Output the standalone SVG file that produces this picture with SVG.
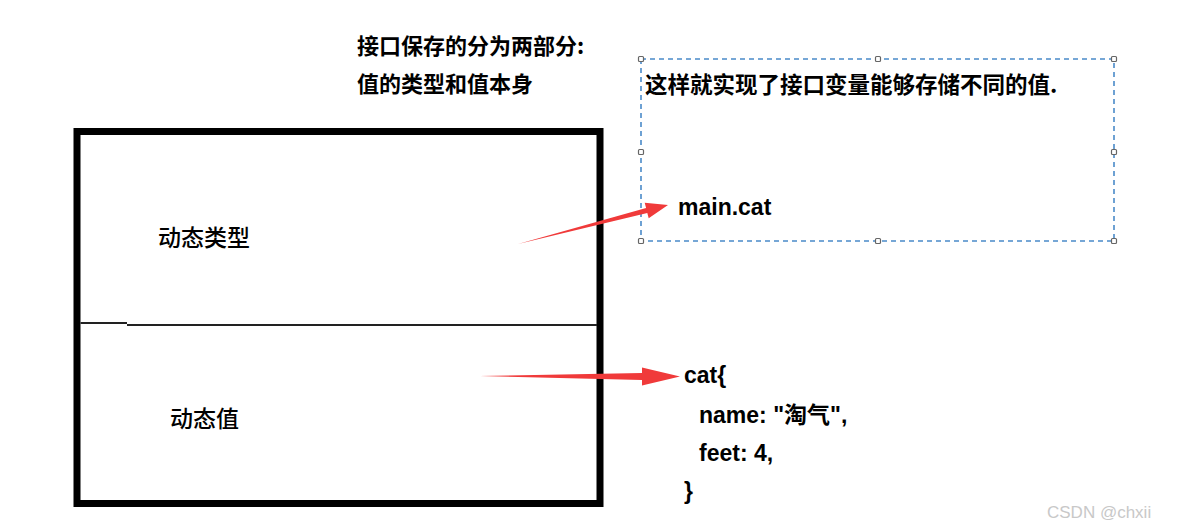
<svg xmlns="http://www.w3.org/2000/svg" width="1177" height="530" viewBox="0 0 1177 530">
<style>
.t{font-family:"Microsoft YaHei","Noto Sans CJK SC","Liberation Sans",sans-serif;font-weight:bold;font-size:22px;fill:#000}
.n{font-family:"Microsoft YaHei","Noto Sans CJK SC","Liberation Sans",sans-serif;font-weight:500;font-size:23px;fill:#000}
.c{font-family:"Liberation Sans","Noto Sans CJK SC",sans-serif;font-weight:bold;font-size:23px;fill:#000}
.h{fill:#fff;stroke:#666;stroke-width:1.2}
.arr{fill:#f03a3a}
</style>
<rect width="1177" height="530" fill="#fff"/>
<g id="interface-box">
<rect x="77" y="131.5" width="523" height="372" fill="#fff" stroke="#000" stroke-width="7"/>
<path d="M80.5 323 H127 M127 325 H597" stroke="#222" stroke-width="1.8" fill="none"/>
<text class="n" x="158" y="246">动态类型</text>
<text class="n" x="170" y="427">动态值</text>
</g>
<g id="title">
<text class="t" x="357" y="54">接口保存的分为两部分:</text>
<text class="t" x="357" y="92">值的类型和值本身</text>
</g>
<g id="type-box">
<rect x="641" y="59" width="473" height="182" fill="none" stroke="#4a8ac9" stroke-width="1.6" stroke-dasharray="5,4"/>
<rect class="h" x="638.5" y="56.5" width="5" height="5" rx="1"/>
<rect class="h" x="875.5" y="56.5" width="5" height="5" rx="1"/>
<rect class="h" x="1111.5" y="56.5" width="5" height="5" rx="1"/>
<rect class="h" x="638.5" y="149.5" width="5" height="5" rx="1"/>
<rect class="h" x="1111.5" y="149.5" width="5" height="5" rx="1"/>
<rect class="h" x="638.5" y="238.5" width="5" height="5" rx="1"/>
<rect class="h" x="875.5" y="238.5" width="5" height="5" rx="1"/>
<rect class="h" x="1111.5" y="238.5" width="5" height="5" rx="1"/>
<text class="t" x="645" y="93" style="font-size:22.5px">这样就实现了接口变量能够存储不同的值.</text>
<text class="c" x="678" y="215">main.cat</text>
</g>
<g id="value-box">
<text class="c" x="684" y="383">cat{</text>
<text class="c" x="699" y="423">name: "淘气",</text>
<text class="c" x="699" y="461">feet: 4,</text>
<text class="c" x="684" y="499">}</text>
</g>
<g id="connectors">
<polygon class="arr" points="518,244 646.1,208.1 644.7,202.8 668,205 648.7,218.2 647.3,212.9"/>
<polygon class="arr" points="480,376 642,373 642,367.5 680,376.5 642,385.5 642,380"/>
</g>
<text x="1047" y="518" style="font-family:'Liberation Sans',sans-serif;font-size:17px;fill:#c8c8c8">CSDN @chxii</text>
</svg>
